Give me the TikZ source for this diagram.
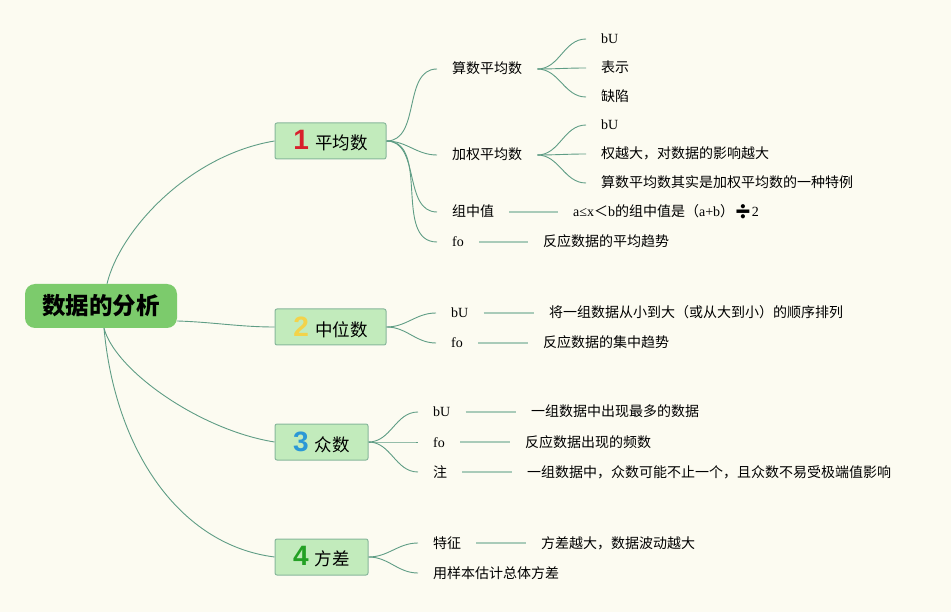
\documentclass[tikz,border=0pt]{standalone}
\usepackage{fontspec}
\setmainfont{Liberation Serif}
\newfontfamily\cjk{Noto Sans CJK SC}
\newfontfamily\numfont{Liberation Sans}
\newfontfamily\emo{Noto Emoji}
\definecolor{mmBg}{HTML}{FCFBF1}
\definecolor{mmRoot}{HTML}{7CCB6C}
\definecolor{mmTopic}{HTML}{C2EBBC}
\definecolor{mmTopicD}{HTML}{87B79B}
\definecolor{mmLine}{HTML}{5F9D85}
\definecolor{mmLineL}{HTML}{A9CBB9}
\definecolor{mmRed}{HTML}{D8202C}
\definecolor{mmYellow}{HTML}{F3D34A}
\definecolor{mmBlue}{HTML}{2B98D6}
\definecolor{mmGreen}{HTML}{23A024}
\newcommand\topicnum[2]{{\numfont\bfseries\fontsize{28}{28}\selectfont\color{#1}#2}\hspace{6pt}}

\begin{document}
\begin{tikzpicture}[
  x=1pt, y=-1pt,
  every node/.style={inner sep=0pt},
  root/.style={
    rectangle, rounded corners=10pt, fill=mmRoot,
    minimum width=152pt, minimum height=44pt,
    font=\cjk\bfseries\fontsize{23.5}{26}\selectfont
  },
  topic/.style={
    rectangle, rounded corners=2pt,
    draw=mmTopicD, fill=mmTopic, line width=1pt,
    minimum height=36pt,
    font=\cjk\fontsize{17.5}{20}\selectfont
  },
  leaf/.style={
    anchor=west, inner xsep=15pt,
    text height=12pt, text depth=2pt,
    font=\cjk\fontsize{14}{16}\selectfont
  },
  link/.style={draw=mmLine, line width=0.9pt},
  bar/.style={draw=mmLineL, line width=2pt}
]
 \fill[mmBg] (0,0) rectangle (951,612);
 \useasboundingbox (0,0) rectangle (951,612);

 % Centre
 \node[root] (root) at (101,306) {数据的分析};

 % Four topics
 \node[topic, minimum width=111pt] (t1) at (330.5,141) {\topicnum{mmRed}{1}平均数};
 \node[topic, minimum width=111pt] (t2) at (330.5,327) {\topicnum{mmYellow}{2}中位数};
 \node[topic, minimum width=93pt] (t3) at (321.5,442) {\topicnum{mmBlue}{3}众数};
 \node[topic, minimum width=93pt] (t4) at (321.5,557) {\topicnum{mmGreen}{4}方差};

 \draw[link] ([xshift=6pt]root.north) .. controls +(13,-54) and +(-85,14) .. (t1.west);
 \draw[link] ([yshift=-15pt]root.east) .. controls +(35,1) and +(-35,0) .. (t2.west);
 \draw[link] ([xshift=3pt]root.south) .. controls +(11,42) and +(-75,-12) .. (t3.west);
 \draw[link] ([xshift=3pt]root.south) .. controls +(11,122) and +(-95,-12) .. (t4.west);

 % Topic 1: mean
 \node[leaf] (s1) at (437,69) {算数平均数};
 \node[leaf] (s2) at (437,155) {加权平均数};
 \node[leaf] (s3) at (437,212) {组中值};
 \node[leaf] (s4) at (437,242) {\rmfamily fo};
 \draw[link] (t1.east) to[out=0,in=180] (s1.west);
 \draw[link] (t1.east) to[out=0,in=180] (s2.west);
 \draw[link] (t1.east) to[out=0,in=180] (s3.west);
 \draw[link] (t1.east) to[out=0,in=180] (s4.west);

 \node[leaf] (s1a) at (586,39) {\rmfamily bU};
 \node[leaf] (s1b) at (586,68) {表示};
 \node[leaf] (s1c) at (586,97) {缺陷};
 \draw[link] (s1.east) to[out=0,in=180] (s1a.west);
 \draw[link] (s1.east) to[out=0,in=180] (s1b.west);
 \draw[link] (s1.east) to[out=0,in=180] (s1c.west);

 \node[leaf] (s2a) at (586,125) {\rmfamily bU};
 \node[leaf] (s2b) at (586,154) {权越大，对数据的影响越大};
 \node[leaf] (s2c) at (586,183) {算数平均数其实是加权平均数的一种特例};
 \draw[link] (s2.east) to[out=0,in=180] (s2a.west);
 \draw[link] (s2.east) to[out=0,in=180] (s2b.west);
 \draw[link] (s2.east) to[out=0,in=180] (s2c.west);

 \node[leaf] (s3a) at (558,212)
  {{\rmfamily a≤x}＜{\rmfamily b}的组中值是（{\rmfamily a+b}）{\emo ➗}{\rmfamily 2}};
 \node[leaf] (s4a) at (528,242) {反应数据的平均趋势};
 \draw[bar] (s3.east) -- (s3a.west);
 \draw[bar] (s4.east) -- (s4a.west);

 % Topic 2: median
 \node[leaf] (m1) at (436,313) {\rmfamily bU};
 \node[leaf] (m2) at (436,343) {\rmfamily fo};
 \draw[link] (t2.east) to[out=0,in=180] (m1.west);
 \draw[link] (t2.east) to[out=0,in=180] (m2.west);
 \node[leaf] (m1a) at (534,313) {将一组数据从小到大（或从大到小）的顺序排列};
 \node[leaf] (m2a) at (528,343) {反应数据的集中趋势};
 \draw[bar] (m1.east) -- (m1a.west);
 \draw[bar] (m2.east) -- (m2a.west);

 % Topic 3: mode
 \node[leaf] (d1) at (418,412) {\rmfamily bU};
 \node[leaf] (d2) at (418,442) {\rmfamily fo};
 \node[leaf] (d3) at (418,472) {注};
 \draw[link] (t3.east) to[out=0,in=180] (d1.west);
 \draw[link] (t3.east) to[out=0,in=180] (d2.west);
 \draw[link] (t3.east) to[out=0,in=180] (d3.west);
 \node[leaf] (d1a) at (516,412) {一组数据中出现最多的数据};
 \node[leaf] (d2a) at (510,442) {反应数据出现的频数};
 \node[leaf] (d3a) at (512,472) {一组数据中，众数可能不止一个，且众数不易受极端值影响};
 \draw[bar] (d1.east) -- (d1a.west);
 \draw[bar] (d2.east) -- (d2a.west);
 \draw[bar] (d3.east) -- (d3a.west);

 % Topic 4: variance
 \node[leaf] (v1) at (418,543) {特征};
 \node[leaf] (v2) at (418,573) {用样本估计总体方差};
 \draw[link] (t4.east) to[out=0,in=180] (v1.west);
 \draw[link] (t4.east) to[out=0,in=180] (v2.west);
 \node[leaf] (v1a) at (526,543) {方差越大，数据波动越大};
 \draw[bar] (v1.east) -- (v1a.west);
\end{tikzpicture}
\end{document}
